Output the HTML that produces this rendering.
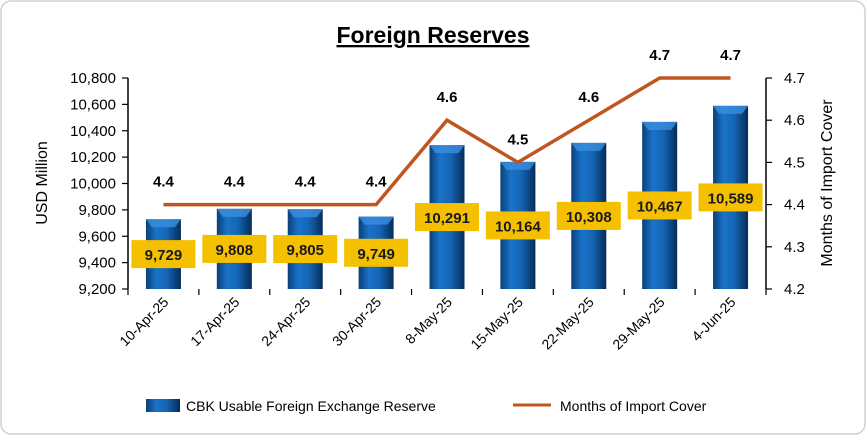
<!DOCTYPE html>
<html><head><meta charset="utf-8"><style>
body{margin:0;background:#fff;}
svg{display:block;font-family:"Liberation Sans",Arial,sans-serif;}
</style></head><body>
<svg id="chart" width="866" height="435" viewBox="0 0 866 435">
<defs>
<linearGradient id="bg" x1="0" x2="1" y1="0" y2="0">
<stop offset="0" stop-color="#0a3f7a"/><stop offset="0.3" stop-color="#1a73c8"/><stop offset="0.6" stop-color="#1565b5"/><stop offset="1" stop-color="#062c57"/>
</linearGradient>
</defs>
<rect x="1" y="1" width="864" height="433" rx="10" fill="#fff" stroke="#d0d0d0" stroke-width="1.5"/>
<text x="433" y="43" text-anchor="middle" font-size="23" font-weight="bold" fill="#000" text-decoration="underline">Foreign Reserves</text>
<g id="plot"></g>
<text transform="translate(47,183) rotate(-90)" text-anchor="middle" font-size="16" fill="#000">USD Million</text>
<text transform="translate(832,183) rotate(-90)" text-anchor="middle" font-size="16" fill="#000">Months of Import Cover</text>
<g>
<rect x="146" y="399" width="34" height="13" fill="url(#bg)"/>
<text x="186" y="411" font-size="14" fill="#000">CBK Usable Foreign Exchange Reserve</text>
<line x1="513" y1="405" x2="551" y2="405" stroke="#c0561f" stroke-width="3"/>
<text x="560" y="411" font-size="14" fill="#000">Months of Import Cover</text>
</g>
</svg>
<script>
const categories=["10-Apr-25","17-Apr-25","24-Apr-25","30-Apr-25","8-May-25","15-May-25","22-May-25","29-May-25","4-Jun-25"];
const reserves=[9729,9808,9805,9749,10291,10164,10308,10467,10589];
const cover=[4.4,4.4,4.4,4.4,4.6,4.5,4.6,4.7,4.7];
const leftTicks=[9200,9400,9600,9800,10000,10200,10400,10600,10800];
const rightTicks=[4.2,4.3,4.4,4.5,4.6,4.7];
const NS="http://www.w3.org/2000/svg";
const g=document.getElementById('plot');
const L=128,R=766,T=78,B=289;
const yL=v=>B-(v-9200)/(10800-9200)*(B-T);
const yR=v=>B-(v-4.2)/(4.7-4.2)*(B-T);
const bw=(R-L)/categories.length;
const xC=i=>L+bw*(i+0.5);
function el(t,a,txt){const e=document.createElementNS(NS,t);for(const k in a)e.setAttribute(k,a[k]);if(txt!==undefined)e.textContent=txt;g.appendChild(e);return e;}
const fmt=v=>v.toLocaleString('en-US');
// axes
let e=el('line',{x1:L,y1:T,x2:L,y2:B,stroke:'#000','stroke-width':1.5});

e=el('line',{x1:R,y1:T,x2:R,y2:B,stroke:'#000','stroke-width':1.5});

leftTicks.forEach(v=>{
 el('line',{x1:L-6,y1:yL(v),x2:L,y2:yL(v),stroke:'#000','stroke-width':1.2});
 const t=el('text',{x:L-12,y:yL(v)+5,'text-anchor':'end','font-size':15,fill:'#000'},fmt(v));
 
});
rightTicks.forEach(v=>{
 el('line',{x1:R,y1:yR(v),x2:R+6,y2:yR(v),stroke:'#000','stroke-width':1.2});
 const t=el('text',{x:R+18,y:yR(v)+5,'font-size':15,fill:'#000'},v.toFixed(1));
 
});
for(let i=0;i<=categories.length;i++)el('line',{x1:L+bw*i,y1:B,x2:L+bw*i,y2:B+6,stroke:'#000','stroke-width':1.2});
// bars
const barW=35;
reserves.forEach((v,i)=>{
 const x=xC(i)-barW/2,y=yL(v);
 const r=el('rect',{x:x,y:y,width:barW,height:B-y,fill:'url(#bg)'});
 
 el('polygon',{points:`${x},${y} ${x+barW},${y} ${x+barW-6},${y+8} ${x+6},${y+8}`,fill:'#3b8ee0',opacity:0.8});
});
// x labels
categories.forEach((c,i)=>{
 const t=el('text',{x:xC(i)+6,y:B+14,'text-anchor':'end','font-size':14,fill:'#000',transform:`rotate(-45 ${xC(i)+6} ${B+14})`},c);
 
});
// line
const pts=cover.map((v,i)=>xC(i)+','+yR(v)).join(' ');
e=el('polyline',{points:pts,fill:'none',stroke:'#c0561f','stroke-width':3.5});

cover.forEach((v,i)=>{
 const t=el('text',{x:xC(i),y:yR(v)-18,'text-anchor':'middle','font-size':15,'font-weight':'bold',fill:'#000'},v.toFixed(1));
 
});
// bar value labels
reserves.forEach((v,i)=>{
 const cy=(yL(v)+B)/2;
 const r=el('rect',{x:xC(i)-32,y:cy-14,width:64,height:28,fill:'#f5c000'});
 
 const t=el('text',{x:xC(i),y:cy+6,'text-anchor':'middle','font-size':15,'font-weight':'bold',fill:'#1a1a1a'},fmt(v));
 
});
</script>
</body></html>
